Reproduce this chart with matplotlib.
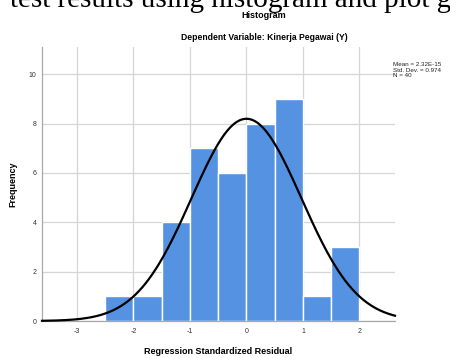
import numpy as np
import matplotlib
matplotlib.use("Agg")
import matplotlib.pyplot as plt

# Histogram of regression standardized residuals
bin_edges = [-2.5, -2.0, -1.5, -1.0, -0.5, 0.0, 0.5, 1.0, 1.5, 2.0]
frequencies = [1, 1, 4, 7, 6, 8, 9, 1, 3]
mean_value = 2.32e-15
std_dev = 0.974
n_obs = 40
x_ticks = [-3, -2, -1, 0, 1, 2]
y_ticks = [0, 2, 4, 6, 8, 10]

plt.rcParams['font.family'] = ['Liberation Sans', 'DejaVu Sans']

fig = plt.figure(figsize=(4.5, 3.58), dpi=100)
ax = fig.add_axes([42/450, 1 - 321/358, (395 - 42)/450, (321 - 47)/358])

widths = np.diff(bin_edges)
ax.bar(bin_edges[:-1], frequencies, width=widths, align='edge',
       color='#5592e2', edgecolor='white', linewidth=1.0, zorder=2)

# fitted normal curve scaled to counts
bw = widths[0]
xs = np.linspace(-3.62, 2.63, 400)
pdf = np.exp(-0.5 * ((xs - mean_value) / std_dev) ** 2) / (std_dev * np.sqrt(2 * np.pi))
ax.plot(xs, n_obs * bw * pdf, color='black', linewidth=1.6, zorder=3, clip_on=False)

ax.set_xlim(-3.62, 2.63)
ax.set_ylim(0, 11.1)
ax.set_xticks(x_ticks)
ax.set_yticks(y_ticks)
ax.set_xticklabels([str(t) for t in x_ticks], fontsize=5, color='#333333')
ax.set_yticklabels([str(t) for t in y_ticks], fontsize=5, color='#333333')
ax.tick_params(axis='x', length=0, pad=5)
ax.tick_params(axis='y', length=0, pad=4)
ax.grid(True, color='#d6d6d6', linewidth=0.9, zorder=0)
ax.set_axisbelow(True)
for side in ('top', 'right'):
    ax.spines[side].set_visible(False)
for side in ('left', 'bottom'):
    ax.spines[side].set_color('#a8a8a8')
    ax.spines[side].set_linewidth(0.9)

ax.set_xlabel('Regression Standardized Residual', fontsize=6.5, fontweight='bold', labelpad=9)
ax.set_ylabel('Frequency', fontsize=6.5, fontweight='bold', labelpad=8)

fig.text(264/450, 1 - 18.5/358, 'Histogram', ha='center', va='baseline', fontsize=6.5, fontweight='bold')
fig.text(264/450, 1 - 37/358, 'Dependent Variable: Kinerja Pegawai (Y)', ha='center', va='center',
         fontsize=6.2, fontweight='bold')

fig.text(393/450, 1 - 70/358,
         f'Mean = 2.32E-15\nStd. Dev. = {std_dev:.3f}\nN = {n_obs}',
         ha='left', va='center', fontsize=4.5, linespacing=1.05, color='#222222')

# caption line from the surrounding page, cut at the top edge
fig.text(10/450, 1 - 7/358, 'test results using histogram and plot g', ha='left', va='baseline',
         fontsize=21, family='Liberation Serif', color='black')

fig.savefig('out.png', dpi=100)
